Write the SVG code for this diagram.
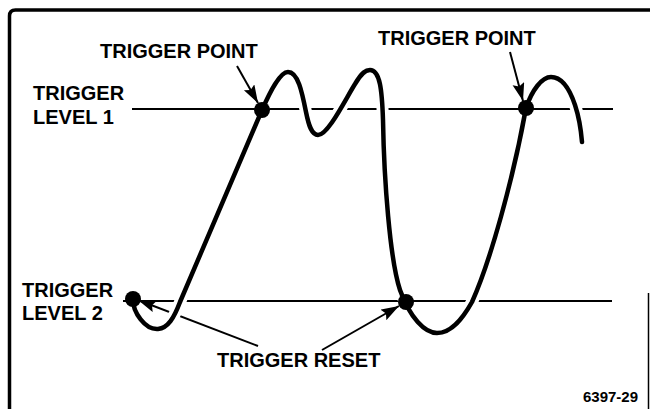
<svg xmlns="http://www.w3.org/2000/svg" width="650" height="409" viewBox="0 0 650 409">
  <style>
    .lbl { font-family: "Liberation Sans", Arial, sans-serif; font-weight: bold; font-size: 20px; fill: #000; }
    .fig { font-family: "Liberation Sans", Arial, sans-serif; font-weight: bold; font-size: 15px; fill: #000; }
    .level { stroke: #000; stroke-width: 2; fill: none; }
    .wave { fill: none; stroke-linecap: round; stroke-linejoin: round; }
    .conn { stroke: #000; stroke-width: 2; fill: none; marker-end: url(#ah); }
  </style>
  <defs>
    <marker id="ah" markerUnits="userSpaceOnUse" markerWidth="20" markerHeight="14" refX="18" refY="6" orient="auto">
      <path d="M0,0 L18,6 L0,12 L3,6 z" fill="#000"/>
    </marker>
    <path id="wavePath" d="M 133 300 C 133 312 145 330 158 329 C 168 328 174 318 180 302 L 262 110 C 270 92 280 72 288 72 C 298 72 302 92 306 112 C 309 127 312 135 318 135 C 328 135 345 100 355 84 C 362 72 366 70 370 70 C 380 70 382 90 383 120 C 384 180 390 260 400 290 C 410 318 425 333 437 333 C 452 333 463 318 472 302 C 490 262 513 180 526 108 C 532 90 542 77 551 77 C 562 77 570 90 575 105 C 579 117 581 130 582 142"/>
  </defs>
  <rect width="650" height="409" fill="#fff"/>

  <g id="frame">
    <path d="M 9.5 409 L 9.5 16 Q 9.5 10 15.5 10 L 650 10" fill="none" stroke="#000" stroke-width="3.5"/>
    <line x1="648.5" y1="293" x2="648.5" y2="409" stroke="#000" stroke-width="1.5"/>
  </g>

  <g id="level1">
    <line class="level" x1="132" y1="109" x2="613" y2="109"/>
  </g>
  <g id="level2">
    <line class="level" x1="123" y1="301" x2="612" y2="301"/>
  </g>

  <g id="connectors-under">
    <line class="conn" x1="258" y1="346" x2="138" y2="300"/>
  </g>

  <g id="waveform">
    <use href="#wavePath" class="wave" stroke="#fff" stroke-width="12"/>
    <use href="#wavePath" class="wave" stroke="#000" stroke-width="4.5"/>
  </g>

  <g id="trigger-point-1"><circle cx="262" cy="110" r="8" fill="#000"/></g>
  <g id="trigger-point-2"><circle cx="526" cy="108" r="8" fill="#000"/></g>
  <g id="trigger-reset-1"><circle cx="133" cy="299" r="8" fill="#000"/></g>
  <g id="trigger-reset-2"><circle cx="406" cy="302" r="8" fill="#000"/></g>

  <g id="connectors">
    <line class="conn" x1="237" y1="66" x2="258" y2="103"/>
    <line class="conn" x1="510" y1="52" x2="523" y2="101"/>
    <line class="conn" x1="322" y1="350" x2="399" y2="306"/>
  </g>

  <g id="labels">
    <text class="lbl" x="100" y="58">TRIGGER POINT</text>
    <text class="lbl" x="378" y="45">TRIGGER POINT</text>
    <text class="lbl" x="33" y="100">TRIGGER</text>
    <text class="lbl" x="33" y="124">LEVEL 1</text>
    <text class="lbl" x="22" y="297">TRIGGER</text>
    <text class="lbl" x="22" y="320">LEVEL 2</text>
    <text class="lbl" x="217" y="367">TRIGGER RESET</text>
    <text class="fig" x="583" y="402">6397-29</text>
  </g>
</svg>
